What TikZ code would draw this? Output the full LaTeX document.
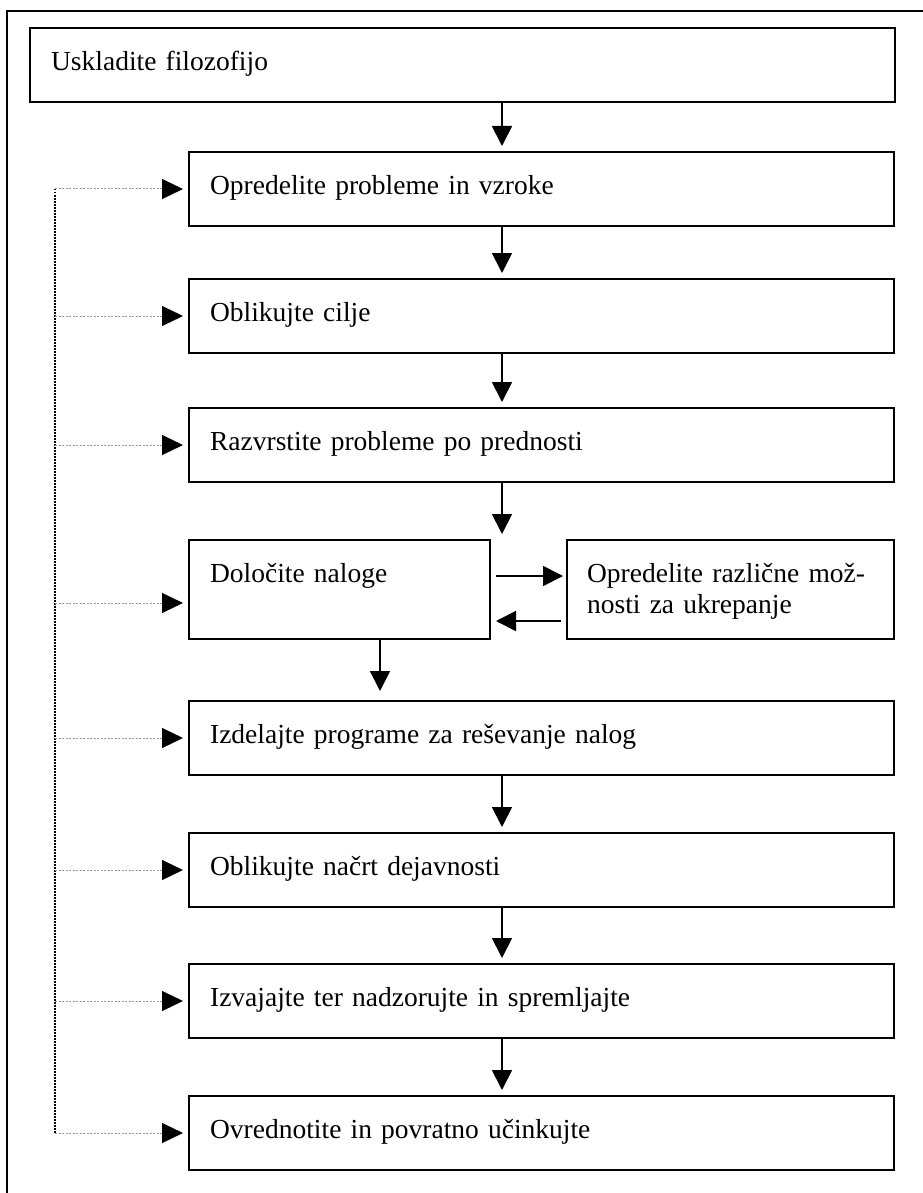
\documentclass[tikz,border=0pt]{standalone}
\usepackage{fontspec}
\setmainfont{Liberation Serif}
\usetikzlibrary{arrows.meta}

\begin{document}
\begin{tikzpicture}[
  x=1pt, y=-1pt,
  font=\fontsize{27.5}{31}\selectfont,
  box/.style={draw, line width=2.2pt, anchor=north west, align=left,
    inner xsep=21pt, inner ysep=0pt, text height=42pt, text depth=31.8pt},
  wide/.style={box, text width=662.8pt},
  tall/.style={box, text depth=56.8pt},
  arrow/.style={-{Triangle[length=20pt, width=20pt]}, line width=1.8pt, shorten >=5pt},
  feedback/.style={-{Triangle[length=21pt, width=20pt, black]}, black!40, line width=1pt,
    dash pattern=on 2pt off 1.5pt, shorten >=5pt},
  loopline/.style={line width=1.8pt, dash pattern=on 1.5pt off 1.5pt},
  frame/.style={line width=2pt}
]
\useasboundingbox (0,0) rectangle (922,1193);

% outer frame (runs off the page on the right and at the bottom)
\draw[frame] (7,1230) |- (950,11.5);

\node[box, text width=822.8pt] (philosophy) at (29,27) {Uskladite filozofijo};
\node[wide] (problems) at (188,151) {Opredelite probleme in vzroke};
\node[wide] (goals) at (188,278) {Oblikujte cilje};
\node[wide] (priorities) at (188,407) {Razvrstite probleme po prednosti};
\node[tall, text width=258.8pt] (tasks) at (188,539) {Določite naloge};
\node[tall, text width=286.8pt, inner xsep=20pt] (options) at (566,539) {Opredelite različne mož-\\nosti za ukrepanje};
\node[wide] (programmes) at (188,700) {Izdelajte programe za reševanje nalog};
\node[wide] (plan) at (188,832) {Oblikujte načrt dejavnosti};
\node[wide] (monitor) at (188,963) {Izvajajte ter nadzorujte in spremljajte};
\node[wide] (evaluate) at (188,1095) {Ovrednotite in povratno učinkujte};

\coordinate (axis) at (502,0);
\coordinate (side) at (380,0);
\coordinate (fb) at (55,0);
\coordinate (tasksin) at ([yshift=-13.5pt]tasks.west);

% main chain
\foreach \a/\b in {philosophy/problems, problems/goals, goals/priorities, priorities/tasks,
                   programmes/plan, plan/monitor, monitor/evaluate}
  \draw[arrow] (\a.south -| axis) -- (\b.north -| axis);
\draw[arrow, shorten >=9pt] (tasks.south -| side) -- (programmes.north -| side);

% tasks <-> options
\draw[arrow, shorten <=5pt, shorten >=3pt] ([yshift=13.5pt]tasks.east) -- ([yshift=13.5pt]tasks.east -| options.west);
\draw[arrow, shorten <=5pt] ([yshift=-31.5pt]tasks.east -| options.west) -- ([yshift=-31.5pt]tasks.east);

% feedback loop
\draw[loopline] (fb |- problems.west) -- (fb |- evaluate.west);
\foreach \b in {problems, goals, priorities, programmes, plan, monitor, evaluate}
  \draw[feedback] (fb |- \b.west) -- (\b.west);
\draw[feedback] (fb |- tasksin) -- (tasksin);
\end{tikzpicture}
\end{document}
